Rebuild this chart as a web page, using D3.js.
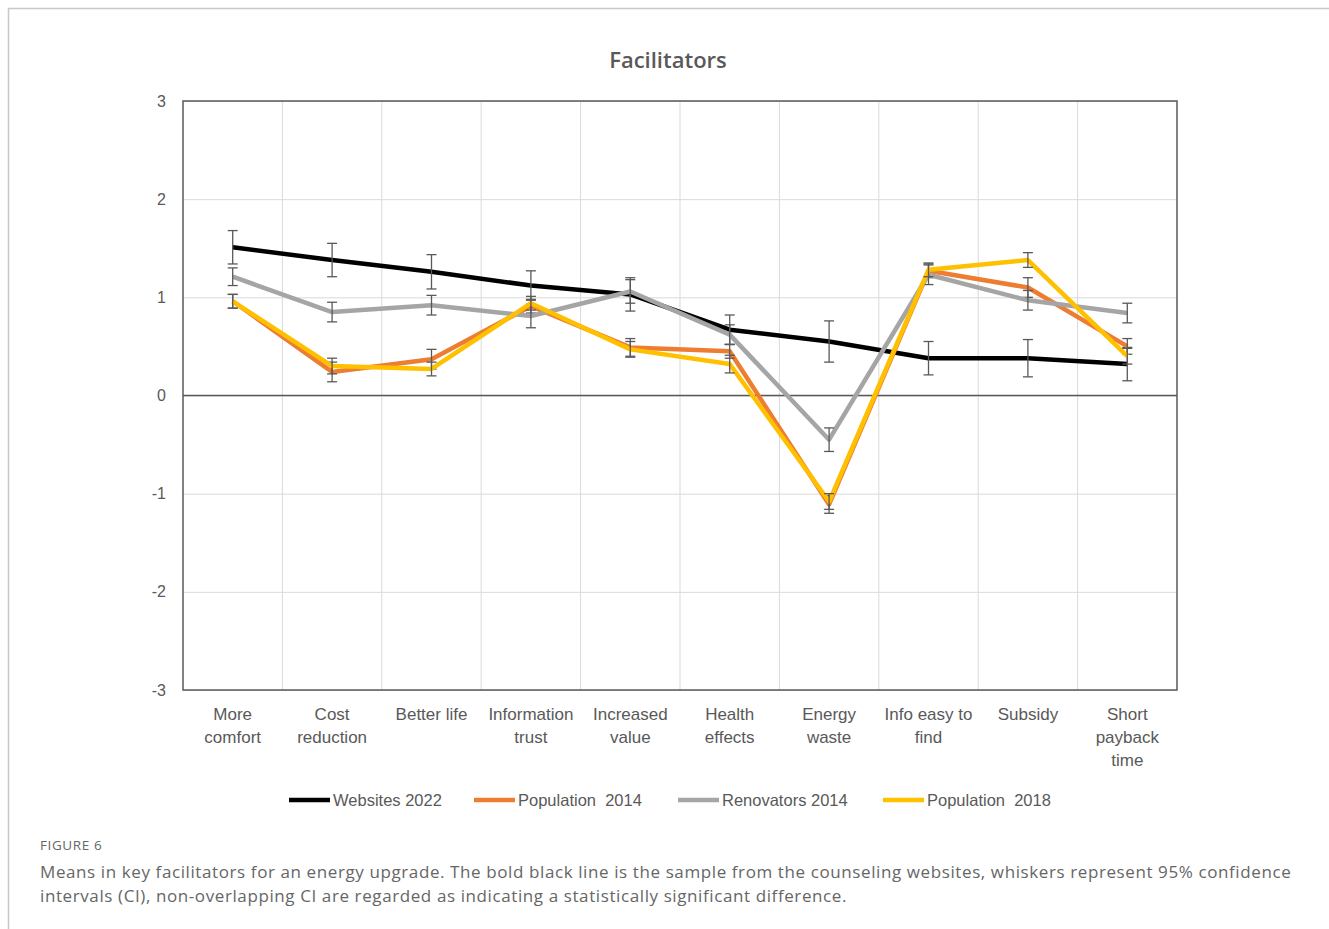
<!DOCTYPE html>
<html>
<head>
<meta charset="utf-8">
<script src="https://cdn.jsdelivr.net/npm/d3@7"></script>
<style>
  body { margin: 0; background: #fff; }
  svg { display: block; }
</style>
</head>
<body>
<svg id="chart"></svg>
<script>
// categories and tick labels
const categories = ['More comfort', 'Cost reduction', 'Better life', 'Information trust', 'Increased value',
  'Health effects', 'Energy waste', 'Info easy to find', 'Subsidy', 'Short payback time'];
const categoryLines = [['More', 'comfort'], ['Cost', 'reduction'], ['Better life'], ['Information', 'trust'],
  ['Increased', 'value'], ['Health', 'effects'], ['Energy', 'waste'], ['Info easy to', 'find'],
  ['Subsidy'], ['Short', 'payback', 'time']];
const yTicks = [-3, -2, -1, 0, 1, 2, 3];

// series means
const websites2022 = [1.51, 1.38, 1.26, 1.12, 1.03, 0.67, 0.55, 0.38, 0.38, 0.32];
const population2014 = [0.96, 0.24, 0.37, 0.91, 0.49, 0.45, -1.11, 1.27, 1.10, 0.50];
const renovators2014 = [1.21, 0.85, 0.92, 0.81, 1.06, 0.62, -0.45, 1.23, 0.97, 0.84];
const population2018 = [0.96, 0.30, 0.27, 0.94, 0.47, 0.32, -1.08, 1.28, 1.38, 0.40];

// 95% CI half widths
const websitesErr = [0.17, 0.17, 0.175, 0.15, 0.17, 0.15, 0.21, 0.17, 0.19, 0.17];
const pop2014Err = [0.07, 0.10, 0.10, 0.07, 0.09, 0.07, 0.09, 0.07, 0.10, 0.08];
const renovatorsErr = [0.09, 0.10, 0.10, 0.12, 0.12, 0.10, 0.12, 0.10, 0.10, 0.10];
const pop2018Err = [0.07, 0.08, 0.07, 0.07, 0.08, 0.09, 0.08, 0.07, 0.075, 0.08];

const seriesNames = ['Websites 2022', 'Population  2014', 'Renovators 2014', 'Population  2018'];
const seriesColors = ['#000000', '#ED7D31', '#A5A5A5', '#FFC000'];

const series = [
  { name: seriesNames[0], values: websites2022, err: websitesErr, color: seriesColors[0] },
  { name: seriesNames[1], values: population2014, err: pop2014Err, color: seriesColors[1] },
  { name: seriesNames[2], values: renovators2014, err: renovatorsErr, color: seriesColors[2] },
  { name: seriesNames[3], values: population2018, err: pop2018Err, color: seriesColors[3] }
];

const width = 1329, height = 929;
const margin = { top: 101, right: 152, bottom: 239, left: 183 };
const innerW = width - margin.left - margin.right;
const innerH = height - margin.top - margin.bottom;

const labelFont = 'Liberation Sans, sans-serif';

const svg = d3.select('#chart')
  .attr('width', width)
  .attr('height', height);

// outer frame (top and left only)
svg.append('line').attr('x1', 8).attr('x2', width).attr('y1', 8.5).attr('y2', 8.5)
  .attr('stroke', '#c8c8c8').attr('stroke-width', 1.5);
svg.append('line').attr('x1', 8.5).attr('x2', 8.5).attr('y1', 8).attr('y2', height)
  .attr('stroke', '#c8c8c8').attr('stroke-width', 1.5);

// title
svg.append('text')
  .attr('x', 668)
  .attr('y', 68)
  .attr('text-anchor', 'middle')
  .style('font-family', 'Open Sans, sans-serif')
  .style('font-size', '22px')
  .style('font-weight', 600)
  .attr('fill', '#595959')
  .text('Facilitators');

const chart = svg.append('g')
  .attr('transform', `translate(${margin.left},${margin.top})`);

const xScale = d3.scaleBand()
  .domain(categories)
  .range([0, innerW]);

const yScale = d3.scaleLinear()
  .domain([-3, 3])
  .range([innerH, 0]);

const xCenter = d => xScale(d) + xScale.bandwidth() / 2;

// horizontal gridlines
const yAxis = d3.axisLeft(yScale)
  .tickValues(yTicks)
  .tickSize(-innerW)
  .tickFormat(d => String(d));
const yAxisG = chart.append('g').attr('class', 'axis y-axis').call(yAxis);
yAxisG.select('.domain').remove();
yAxisG.selectAll('.tick line').attr('stroke', '#d9d9d9').attr('stroke-width', 1);
yAxisG.selectAll('text')
  .attr('x', -17)
  .attr('fill', '#595959')
  .style('font-family', labelFont)
  .style('font-size', '16px');

// vertical gridlines at band boundaries
chart.append('g')
  .selectAll('line')
  .data(categories.slice(1))
  .join('line')
  .attr('x1', d => xScale(d))
  .attr('x2', d => xScale(d))
  .attr('y1', 0)
  .attr('y2', innerH)
  .attr('stroke', '#d9d9d9')
  .attr('stroke-width', 1);

// zero line
chart.append('line')
  .attr('x1', 0).attr('x2', innerW)
  .attr('y1', yScale(0)).attr('y2', yScale(0))
  .attr('stroke', '#595959')
  .attr('stroke-width', 1.5);

// plot border
chart.append('rect')
  .attr('width', innerW)
  .attr('height', innerH)
  .attr('fill', 'none')
  .attr('stroke', '#595959')
  .attr('stroke-width', 1.5);

// x labels
const xLabels = chart.append('g')
  .selectAll('text')
  .data(categories)
  .join('text')
  .attr('x', d => xCenter(d))
  .attr('y', innerH + 30)
  .attr('text-anchor', 'middle')
  .attr('fill', '#595959')
  .style('font-family', labelFont)
  .style('font-size', '17px');
xLabels.each(function (d, i) {
  d3.select(this).selectAll('tspan')
    .data(categoryLines[i])
    .join('tspan')
    .attr('x', xCenter(d))
    .attr('dy', (t, j) => j === 0 ? 0 : 23)
    .text(t => t);
});

const line = d3.line()
  .x((d, i) => xCenter(categories[i]))
  .y(d => yScale(d));

// lines and error bars, series in legend order
series.forEach(s => {
  const g = chart.append('g');
  g.append('path')
    .datum(s.values)
    .attr('d', line)
    .attr('fill', 'none')
    .attr('stroke', s.color)
    .attr('stroke-width', 4.5)
    .attr('stroke-linejoin', 'round');

  const eb = g.selectAll('.err')
    .data(s.values.map((v, i) => ({ v, e: s.err[i], c: categories[i] })))
    .join('g')
    .attr('class', 'err')
    .attr('stroke', '#595959')
    .attr('stroke-width', 1.3);
  eb.append('line')
    .attr('x1', d => xCenter(d.c)).attr('x2', d => xCenter(d.c))
    .attr('y1', d => yScale(d.v + d.e)).attr('y2', d => yScale(d.v - d.e));
  eb.append('line')
    .attr('x1', d => xCenter(d.c) - 5).attr('x2', d => xCenter(d.c) + 5)
    .attr('y1', d => yScale(d.v + d.e)).attr('y2', d => yScale(d.v + d.e));
  eb.append('line')
    .attr('x1', d => xCenter(d.c) - 5).attr('x2', d => xCenter(d.c) + 5)
    .attr('y1', d => yScale(d.v - d.e)).attr('y2', d => yScale(d.v - d.e));
});

// legend
const legendX = [289, 474, 678, 883];
const legend = svg.append('g')
  .selectAll('g')
  .data(series)
  .join('g')
  .attr('transform', (d, i) => `translate(${legendX[i]},800)`);
legend.append('line')
  .attr('x1', 0).attr('x2', 41)
  .attr('stroke', d => d.color)
  .attr('stroke-width', 4.5);
legend.append('text')
  .attr('x', 44)
  .attr('y', 6)
  .attr('fill', '#595959')
  .style('font-family', labelFont)
  .style('font-size', '16.5px')
  .style('white-space', 'pre')
  .text(d => d.name);

// caption
svg.append('text')
  .attr('x', 40).attr('y', 850)
  .attr('fill', '#666')
  .style('font-family', 'Open Sans, sans-serif')
  .style('font-size', '13.5px')
  .style('letter-spacing', '0.6px')
  .text('FIGURE 6');
const captionLines = [
  'Means in key facilitators for an energy upgrade. The bold black line is the sample from the counseling websites, whiskers represent 95% confidence',
  'intervals (CI), non-overlapping CI are regarded as indicating a statistically significant difference.'
];
svg.append('g')
  .selectAll('text')
  .data(captionLines)
  .join('text')
  .attr('x', 40)
  .attr('y', (d, i) => 878 + i * 24)
  .attr('fill', '#666')
  .style('font-family', 'Open Sans, sans-serif')
  .style('font-size', '17px')
  .style('letter-spacing', '0.6px')
  .text(d => d);
</script>
</body>
</html>
